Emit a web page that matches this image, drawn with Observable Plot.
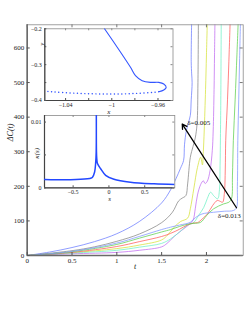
<!DOCTYPE html>
<html><head><meta charset="utf-8">
<script src="https://cdn.jsdelivr.net/npm/d3@7"></script>
<script src="https://cdn.jsdelivr.net/npm/@observablehq/plot@0.6"></script>
<style>
html,body{margin:0;padding:0;background:#fff;}
#wrap{position:relative;width:249px;height:332px;overflow:hidden;background:#fff;}
#wrap svg{position:absolute;left:0;top:0;font-family:'Liberation Serif','Times New Roman',serif !important;}
#wrap svg text{font-family:'Liberation Serif','Times New Roman',serif !important;}
</style></head><body><div id="wrap"></div>
<script>
// ---- main chart data: ΔC(t) curves ----
const xTicksMain = [0, 0.5, 1, 1.5, 2];
const yTicksMain = [0, 100, 200, 300, 400, 500, 600];

const tBlue005 = [0,0.25,0.5,0.75,1,1.25,1.5,1.6,1.66,1.71,1.745,1.755,1.775,1.8,1.82,1.83,1.84,1.835,1.83,1.835];
const vBlue005 = [0,10,23,40,63,98,152,190,222,252,275,320,360,385,405,450,500,525,560,680];
const tGray = [0,0.5,0.75,1,1.25,1.5,1.62,1.69,1.73,1.77,1.79,1.82,1.85,1.875,1.895,1.905,1.91];
const vGray = [0,14,25,41,62,95,125,158,166,173,207,284,315,340,380,500,680];
const tYellow = [0,0.5,1,1.25,1.5,1.57,1.64,1.71,1.79,1.82,1.86,1.9,1.935,1.955,1.965,1.975,1.99,2.0,2.01];
const vYellow = [0,8,20,30,45,60,82,98,108,135,195,255,284,262,300,360,480,580,680];
const tPurple = [0,0.5,1,1.25,1.5,1.56,1.64,1.72,1.8,1.85,1.875,1.9,1.935,1.965,1.985,2.01,2.04,2.065,2.075,2.085,2.09,2.095];
const vPurple = [0,5,9,15,25,35,55,72,88,102,135,175,205,216,208,215,245,303,360,480,580,680];
const tCyan = [0,0.5,1,1.25,1.5,1.6,1.7,1.78,1.86,1.91,1.97,2.01,2.046,2.08,2.125,2.145,2.152,2.156,2.16,2.165];
const vCyan = [0,7,15,24,35,48,68,86,96,115,139,165,183,173,164,190,260,340,450,680];
const tRed = [0,0.5,1,1.25,1.5,1.6,1.7,1.785,1.86,1.9,1.95,2.01,2.07,2.12,2.15,2.18,2.2,2.21,2.215,2.235,2.25,2.265];
const vRed = [0,9,26,40,55,64,76,88,94,95,105,120,145,159,157,154,180,250,332,450,560,680];
const tGreen = [0,0.5,1,1.25,1.5,1.6,1.7,1.8,1.86,1.935,2.0,2.08,2.19,2.25,2.28,2.29,2.3,2.32,2.34,2.355];
const vGreen = [0,11,32,50,68,75,84,91,93,96,115,135,149,154,165,230,332,450,580,680];
const tBlue013 = [0,0.5,1,1.25,1.5,1.6,1.7,1.82,1.88,1.95,2.08,2.2,2.3,2.335,2.345,2.35,2.36,2.37,2.38];
const vBlue013 = [0,12,36,55,75,82,88,96,110,120,125,128,130,138,200,332,450,570,680];

// annotations
const annText = ["δ=0.005", "δ=0.013"];
const annT = [1.786, 2.127];
const annV = [383, 115];
const arrowT = [2.335, 1.73];
const arrowV = [138, 380];

// ---- inset 1: y vs x ----
const in1XTicks = [-1.04, -1.02, -1, -0.98, -0.96];
const in1XLabels = [-1.04, -1, -0.96];
const in1YTicks = [-0.4, -0.35, -0.3, -0.25, -0.2];
const in1YLabels = [-0.4, -0.3, -0.2];
const in1Domain = [-1.058, -0.947];
const solidX = [-1.0063,-0.9953,-0.9838,-0.9795,-0.9737,-0.9665,-0.9593,-0.955,-0.9529,-0.955,-0.9593];
const solidY = [-0.2,-0.2515,-0.3074,-0.3306,-0.3446,-0.3494,-0.3494,-0.3538,-0.3634,-0.3706,-0.3754];
const dotX = [-0.9593,-0.9636,-0.978,-0.9925,-1.0069,-1.0213,-1.0358,-1.0502,-1.0559];
const dotY = [-0.3754,-0.3773,-0.3801,-0.3818,-0.3818,-0.381,-0.379,-0.3762,-0.3745];

// ---- inset 2: κ(s) ----
const in2XTicks = [-0.5, 0, 0.5];
const in2YTicks = [0, 0.005, 0.01];
const in2YLabels = [0, 0.01];
const in2Domain = [-0.9, 0.92];
const sVals = [-0.9,-0.535,-0.3,-0.245,-0.23,-0.2,-0.186,-0.178,-0.176,-0.174,-0.168,-0.16,-0.116,-0.046,0.07,0.3,0.63,0.92];
const kVals = [0.00127,0.00122,0.00137,0.0015,0.0016,0.0024,0.0037,0.0055,0.0115,0.0055,0.0042,0.0037,0.0029,0.0019,0.0013,0.00085,0.0006,0.0005];

// ---- build ----
const W = 249, H = 332;
const serif = "Liberation Serif";
const rows = (a, b, ka = "t", kb = "v") => a.map((d, i) => ({[ka]: d, [kb]: b[i]}));
const fmt = d => String(d).replace("-", "\u2212");
const txt = {fontFamily: serif, fill: "#222"};

const curves = [
  {t: tBlue005, v: vBlue005, color: "#6b7cff"},
  {t: tGray, v: vGray, color: "#858585"},
  {t: tYellow, v: vYellow, color: "#d6e23a"},
  {t: tPurple, v: vPurple, color: "#c06cf0"},
  {t: tCyan, v: vCyan, color: "#6ff0c6"},
  {t: tRed, v: vRed, color: "#ff5a5a"},
  {t: tGreen, v: vGreen, color: "#5ecf4e"},
  {t: tBlue013, v: vBlue013, color: "#7f95ff"}
];

const mL = 26.7, mR = 6.3, mT = 24.3, mB = 77;
const fw = W - mL - mR, fh = H - mT - mB;

const main = Plot.plot({
  width: W, height: H, marginLeft: mL, marginRight: mR, marginTop: mT, marginBottom: mB,
  style: {fontFamily: serif, background: "white"},
  x: {domain: [0, 2.41]},
  y: {domain: [0, 667]},
  marks: [
    ...curves.map(c => Plot.line(rows(c.t, c.v), {x: "t", y: "v", stroke: c.color, strokeWidth: 0.75, curve: "catmull-rom", clip: true})),
    Plot.frame({stroke: "#8a8a8a", strokeWidth: 0.8}),
    Plot.ruleX([0], {stroke: "#6a6a6a", strokeWidth: 1.6}),
    Plot.ruleY([0], {stroke: "#6a6a6a", strokeWidth: 1.6}),
    Plot.tickX(xTicksMain, {x: d => d, insetTop: fh - 3, stroke: "#555"}),
    Plot.tickX(xTicksMain, {x: d => d, insetBottom: fh - 3, stroke: "#777"}),
    Plot.tickY(yTicksMain, {y: d => d, insetRight: fw - 3, stroke: "#555"}),
    Plot.tickY(yTicksMain, {y: d => d, insetLeft: fw - 3, stroke: "#777"}),
    Plot.axisX({ticks: xTicksMain, tickSize: 0, tickPadding: 3, tickFormat: fmt, label: null, fontSize: 7, ...txt}),
    Plot.axisY({ticks: yTicksMain, tickSize: 0, tickPadding: 3, tickFormat: fmt, label: null, fontSize: 7, ...txt}),
    Plot.arrow([0], {x1: () => arrowT[0], y1: () => arrowV[0], x2: () => arrowT[1], y2: () => arrowV[1], stroke: "black", strokeWidth: 1.3, headLength: 6}),
    Plot.text(annText, {x: (d, i) => annT[i], y: (d, i) => annV[i], text: d => d, textAnchor: "start", fontSize: 7, ...txt}),
    Plot.text(["t"], {frameAnchor: "bottom", dy: 13, text: d => d, fontStyle: "italic", fontSize: 8, ...txt}),
    Plot.text(["\u0394C(t)"], {frameAnchor: "left", dx: -17, dy: 1, rotate: -90, text: d => d, fontStyle: "italic", fontSize: 8, ...txt})
  ]
});

// inset 1
const i1L = 44.3, i1R = 76.5, i1T = 28.3, i1B = 232;
const i1w = W - i1L - i1R, i1h = H - i1T - i1B;
const inset1 = Plot.plot({
  width: W, height: H, marginLeft: i1L, marginRight: i1R, marginTop: i1T, marginBottom: i1B,
  style: {fontFamily: serif, background: "none"},
  x: {domain: in1Domain},
  y: {domain: [-0.4, -0.2]},
  marks: [
    Plot.frame({fill: "white", stroke: "#8a8a8a", strokeWidth: 0.8}),
    Plot.ruleX([in1Domain[0]], {stroke: "#444", strokeWidth: 1.2}),
    Plot.ruleY([-0.4], {stroke: "#444", strokeWidth: 1.2}),
    Plot.tickX(in1XTicks, {x: d => d, insetTop: i1h - 2, stroke: "#555"}),
    Plot.tickX(in1XTicks, {x: d => d, insetBottom: i1h - 2, stroke: "#888"}),
    Plot.tickY(in1YTicks, {y: d => d, insetRight: i1w - 2, stroke: "#555"}),
    Plot.tickY(in1YTicks, {y: d => d, insetLeft: i1w - 2, stroke: "#888"}),
    Plot.line(rows(solidX, solidY, "x", "y"), {x: "x", y: "y", stroke: "#3355ff", strokeWidth: 1.1, curve: "catmull-rom", clip: true}),
    Plot.line(rows(dotX, dotY, "x", "y"), {x: "x", y: "y", stroke: "#3355ff", strokeWidth: 1.4, strokeLinecap: "round", strokeDasharray: "0.1,3.6", curve: "catmull-rom", clip: true}),
    Plot.axisX({ticks: in1XLabels, tickSize: 0, tickPadding: 2, tickFormat: fmt, label: null, fontSize: 6, ...txt}),
    Plot.axisY({ticks: in1YLabels, tickSize: 0, tickPadding: 3, tickFormat: fmt, label: null, fontSize: 6, ...txt}),
    Plot.text(["x"], {frameAnchor: "bottom", dy: 13, text: d => d, fontStyle: "italic", fontSize: 7, ...txt}),
    Plot.text(["y"], {frameAnchor: "top-left", dx: -6, dy: 17, rotate: -90, text: d => d, fontStyle: "italic", fontSize: 7, ...txt})
  ]
});

// inset 2
const i2L = 44, i2R = 74.7, i2T = 115, i2B = 144.7;
const i2w = W - i2L - i2R, i2h = H - i2T - i2B;
const inset2 = Plot.plot({
  width: W, height: H, marginLeft: i2L, marginRight: i2R, marginTop: i2T, marginBottom: i2B,
  style: {fontFamily: serif, background: "none"},
  x: {domain: in2Domain},
  y: {domain: [0, 0.011]},
  marks: [
    Plot.frame({fill: "white", stroke: "#8a8a8a", strokeWidth: 0.8}),
    Plot.ruleX([in2Domain[0]], {stroke: "#444", strokeWidth: 1.2}),
    Plot.ruleY([0], {stroke: "#444", strokeWidth: 1.2}),
    Plot.tickX(in2XTicks, {x: d => d, insetTop: i2h - 2, stroke: "#555"}),
    Plot.tickX(in2XTicks, {x: d => d, insetBottom: i2h - 2, stroke: "#888"}),
    Plot.tickY(in2YTicks, {y: d => d, insetRight: i2w - 2, stroke: "#555"}),
    Plot.tickY(in2YTicks, {y: d => d, insetLeft: i2w - 2, stroke: "#888"}),
    Plot.line(rows(sVals, kVals, "s", "k"), {x: "s", y: "k", stroke: "#2348ff", strokeWidth: 1.5, curve: "catmull-rom", clip: true}),
    Plot.axisX({ticks: in2XTicks, tickSize: 0, tickPadding: 1.5, tickFormat: fmt, label: null, fontSize: 6, ...txt}),
    Plot.axisY({ticks: in2YLabels, tickSize: 0, tickPadding: 3, tickFormat: fmt, label: null, fontSize: 6, ...txt}),
    Plot.text(["s"], {frameAnchor: "bottom", dy: 12.7, text: d => d, fontStyle: "italic", fontSize: 7, ...txt}),
    Plot.text(["\u03BA(s)"], {frameAnchor: "left", dx: -7.5, dy: 7, rotate: -90, text: d => d, fontStyle: "italic", fontSize: 7, ...txt})
  ]
});

const wrap = document.getElementById("wrap");
wrap.appendChild(main);
wrap.appendChild(inset1);
wrap.appendChild(inset2);
</script></body></html>
